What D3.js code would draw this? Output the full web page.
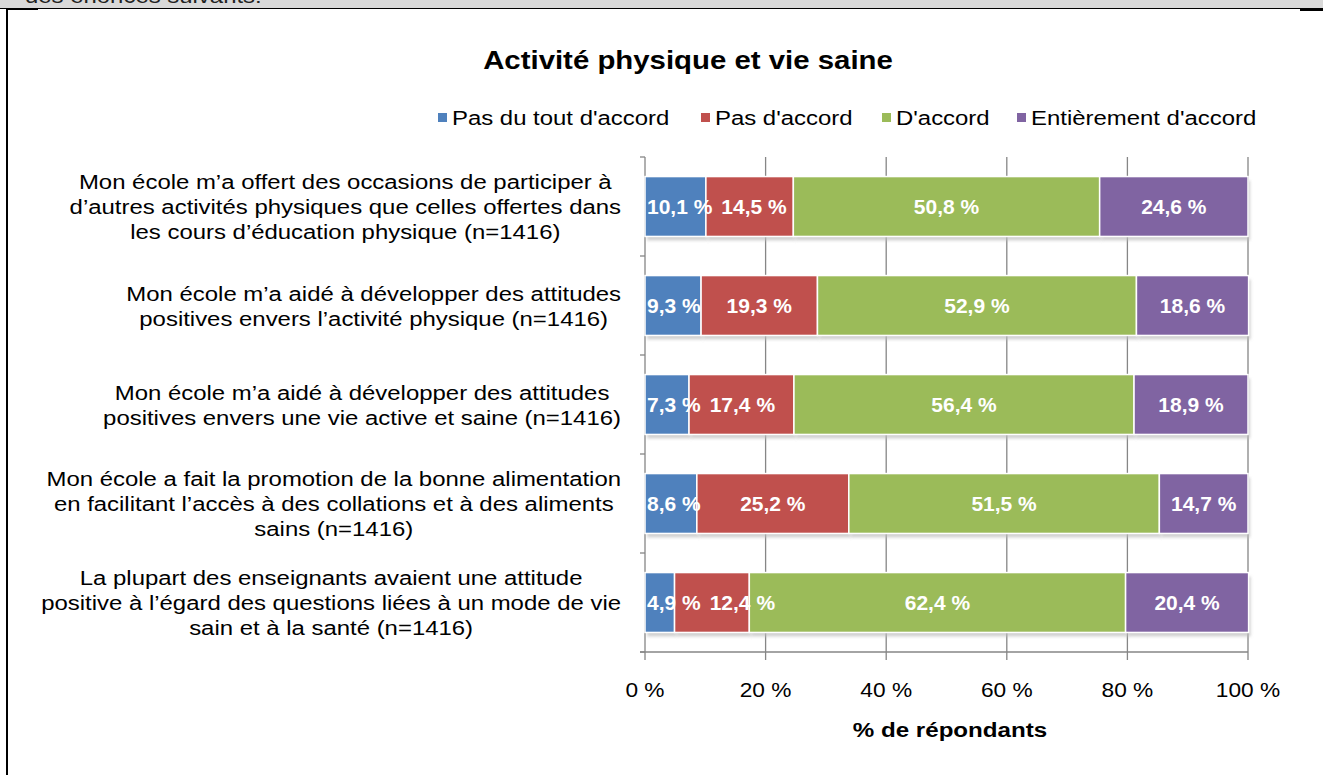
<!DOCTYPE html>
<html><head><meta charset="utf-8">
<script src="https://cdn.jsdelivr.net/npm/d3@7"></script>
<style>
body{margin:0;background:#fff;}
svg{display:block;font-family:"Liberation Sans",Arial,sans-serif;}
</style></head><body>
<svg id="c" width="1323" height="775"></svg>
<script>
const categories = [
  ["Mon école m’a offert des occasions de participer à","d’autres activités physiques que celles offertes dans","les cours d’éducation physique (n=1416)"],
  ["Mon école m’a aidé à développer des attitudes","positives envers l’activité physique (n=1416)"],
  ["Mon école m’a aidé à développer des attitudes","positives envers une vie active et saine (n=1416)"],
  ["Mon école a fait la promotion de la bonne alimentation","en facilitant l’accès à des collations et à des aliments","sains (n=1416)"],
  ["La plupart des enseignants avaient une attitude","positive à l’égard des questions liées à un mode de vie","sain et à la santé (n=1416)"]
];
const seriesNames = ["Pas du tout d'accord","Pas d'accord","D'accord","Entièrement d'accord"];
const pasDuTout = [10.1, 9.3, 7.3, 8.6, 4.9];
const pasDaccord = [14.5, 19.3, 17.4, 25.2, 12.4];
const daccord = [50.8, 52.9, 56.4, 51.5, 62.4];
const entierement = [24.6, 18.6, 18.9, 14.7, 20.4];
const xTicks = [0, 20, 40, 60, 80, 100];
const colors = ["#4f81bd","#c0504d","#9bbb59","#8064a2"];

const series = [pasDuTout, pasDaccord, daccord, entierement];
const svg = d3.select("#c");
const SX = 1.14;

function stext(parent, x, y, size, sx, anchor, txt, weight, fill){
  return parent.append("text")
    .attr("transform", `translate(${x},${y}) scale(${sx},1)`)
    .attr("font-size", size).attr("text-anchor", anchor)
    .attr("font-weight", weight || "normal").attr("fill", fill || "#000")
    .text(txt);
}

// page frame
svg.append("rect").attr("x",0).attr("y",0).attr("width",1323).attr("height",8).attr("fill","#d9d9d9");
svg.append("defs").append("clipPath").attr("id","hdr").append("rect").attr("x",0).attr("y",0).attr("width",1323).attr("height",8);
svg.append("g").attr("clip-path","url(#hdr)").call(gg=>stext(gg,25,3,21,SX,"start","des énoncés suivants:",null,"#222"));
svg.append("line").attr("x1",0).attr("x2",1323).attr("y1",8.5).attr("y2",8.5).attr("stroke","#000").attr("stroke-width",1);
svg.append("line").attr("x1",7).attr("x2",7).attr("y1",8).attr("y2",775).attr("stroke","#000").attr("stroke-width",2);
svg.append("line").attr("x1",7).attr("x2",38).attr("y1",9.5).attr("y2",9.5).attr("stroke","#000").attr("stroke-width",1);
svg.append("line").attr("x1",1300).attr("x2",1323).attr("y1",10).attr("y2",10).attr("stroke","#000").attr("stroke-width",2);

// title
stext(svg,688,69,26,1.13,"middle","Activité physique et vie saine","bold");

// scales
const x = d3.scaleLinear().domain([0,100]).range([645,1248]);
const y = d3.scaleBand().domain(d3.range(categories.length)).range([157,652]).paddingInner(0.395).paddingOuter(0.1975);
const bandStep = y.step();

// gridlines
const g = svg.append("g");
g.selectAll("line.grid").data(xTicks.slice(1)).join("line")
  .attr("x1",d=>x(d)).attr("x2",d=>x(d)).attr("y1",157).attr("y2",660)
  .attr("stroke","#868686").attr("stroke-width",1.3);

// y axis line and ticks
g.append("line").attr("x1",645).attr("x2",645).attr("y1",157).attr("y2",660).attr("stroke","#868686").attr("stroke-width",1.3);
const yBounds = d3.range(categories.length+1).map(i=>157+i*bandStep);
g.selectAll("line.yt").data(yBounds).join("line")
  .attr("x1",640).attr("x2",645).attr("y1",d=>d).attr("y2",d=>d).attr("stroke","#868686").attr("stroke-width",1.3);
// x axis line
g.append("line").attr("x1",640).attr("x2",1248).attr("y1",652).attr("y2",652).attr("stroke","#868686").attr("stroke-width",1.3);

// shadow filter
const defs = svg.append("defs");
const f = defs.append("filter").attr("id","sh").attr("x","-5%").attr("y","-20%").attr("width","110%").attr("height","150%");
f.append("feGaussianBlur").attr("stdDeviation",1.5);

// stacked data
const rows = categories.map((c,i)=>{
  let acc=0;
  return series.map((s,k)=>{ const v=s[i]; const r={i,k,v,x0:acc,x1:acc+v}; acc+=v; return r;});
});

// shadows
svg.append("g").selectAll("rect").data(rows.flat()).join("rect")
  .attr("x",d=>x(d.x0)+2).attr("y",d=>y(d.i)+4).attr("width",d=>x(d.x1)-x(d.x0)).attr("height",y.bandwidth())
  .attr("fill","#bdbdbd").attr("opacity",0.7).attr("filter","url(#sh)");

// bars
svg.append("g").selectAll("rect").data(rows.flat()).join("rect")
  .attr("x",d=>x(d.x0)).attr("y",d=>y(d.i)).attr("width",d=>x(d.x1)-x(d.x0)).attr("height",y.bandwidth())
  .attr("fill",d=>colors[d.k]).attr("stroke","#fff").attr("stroke-width",1.5);

// value labels (kept inside plot, avoid overlap)
const lblG = svg.append("g");
const LSX = 1.05;
const GAP = 9;
rows.forEach(row=>{
  let prevRight = 647 - GAP;
  row.forEach(d=>{
    const t = stext(lblG,0,0,20,LSX,"start",d.v.toFixed(1).replace(".",",")+" %","bold","#fff");
    const w = t.node().getComputedTextLength()*LSX;
    let left = x((d.x0+d.x1)/2) - w/2;
    left = Math.max(left, prevRight + GAP);
    prevRight = left + w;
    t.attr("transform",`translate(${left},${y(d.i)+y.bandwidth()/2+7}) scale(${LSX},1)`);
  });
});

// category labels
const lineH = 25;
categories.forEach((lines,i)=>{
  const cy = y(i)+y.bandwidth()/2;
  const grp = svg.append("g");
  const ts = lines.map(l=>stext(grp,0,0,21,SX,"middle",l));
  const maxW = d3.max(ts,t=>t.node().getComputedTextLength())*SX;
  ts.forEach((t,j)=>t.attr("transform",`translate(${621-maxW/2},${cy+(j-(lines.length-1)/2)*lineH+7.5}) scale(${SX},1)`));
});

// x tick labels
const tg = svg.append("g");
xTicks.forEach(d=>stext(tg,x(d),697,20,1.135,"middle",d+" %"));

// axis title
stext(svg,950,737,21,1.15,"middle","% de répondants","bold");

// legend
const legendX = [438, 701, 882, 1017];
const lg = svg.append("g");
seriesNames.forEach((n,k)=>{
  lg.append("rect").attr("x",legendX[k]).attr("y",113).attr("width",9).attr("height",9).attr("fill",colors[k]);
  stext(lg,legendX[k]+14,125,21,SX,"start",n);
});
</script>
</body></html>
